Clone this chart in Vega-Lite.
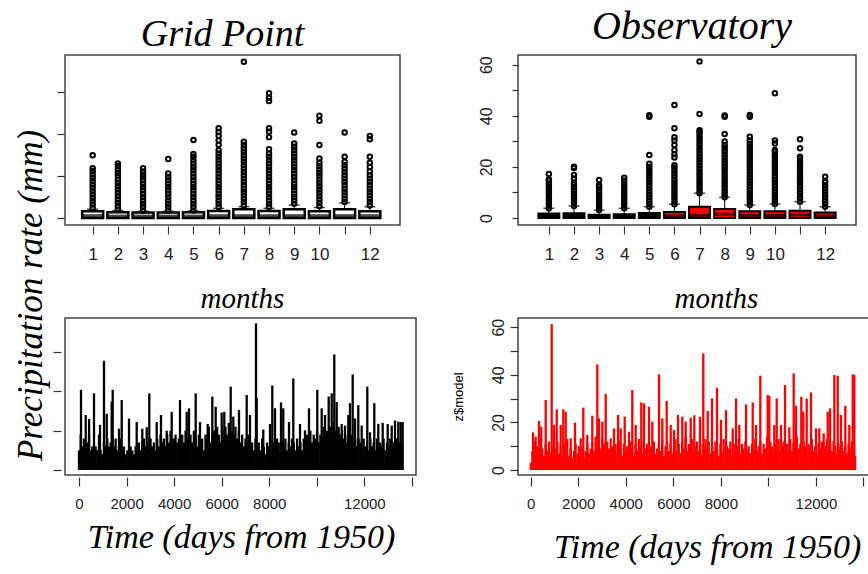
{
"$schema": "https://vega.github.io/schema/vega-lite/v6.json",
"padding": {"left": 12, "top": 6, "right": 0, "bottom": 0},
"background": "white",
"config": {
  "view": {"stroke": "#444", "strokeWidth": 1.5},
  "axis": {"grid": false, "domain": false, "labelOverlap": false, "labelFont": "Liberation Sans", "labelColor": "#222", "tickColor": "#333", "tickWidth": 1.2, "labelFontSize": 16, "titleFont": "Liberation Serif", "titleFontStyle": "italic", "titleFontWeight": "normal", "titleColor": "#000"}
},
"datasets": {
  "gpbox": [
    {"m":1,"q1":0,"med":0.5,"q3":1.6,"hi":2.1},{"m":2,"q1":0,"med":0.4,"q3":1.4,"hi":1.8},{"m":3,"q1":0,"med":0.4,"q3":1.3,"hi":1.6},{"m":4,"q1":0,"med":0.4,"q3":1.3,"hi":1.6},{"m":5,"q1":0,"med":0.4,"q3":1.4,"hi":1.7},{"m":6,"q1":0,"med":0.5,"q3":1.7,"hi":2.3},{"m":7,"q1":0,"med":0.5,"q3":2.1,"hi":2.7},{"m":8,"q1":0,"med":0.5,"q3":1.7,"hi":2.3},{"m":9,"q1":0,"med":0.5,"q3":2.1,"hi":3.1},{"m":10,"q1":0,"med":0.5,"q3":1.6,"hi":2.5},{"m":11,"q1":0,"med":0.5,"q3":2.1,"hi":3.6},{"m":12,"q1":0,"med":0.5,"q3":1.6,"hi":2.7}
  ],
  "obsbox": [
    {"m":1,"q1":0,"med":0.5,"q3":1.8,"hi":3.8},{"m":2,"q1":0,"med":0.5,"q3":1.9,"hi":4.7},{"m":3,"q1":0,"med":0.3,"q3":1.3,"hi":3.1},{"m":4,"q1":0,"med":0.3,"q3":1.5,"hi":3.8},{"m":5,"q1":0,"med":0.5,"q3":2.0,"hi":4.4},{"m":6,"q1":0,"med":0.8,"q3":2.3,"hi":5.4},{"m":7,"q1":0,"med":1.0,"q3":4.4,"hi":9.7},{"m":8,"q1":0,"med":1.5,"q3":3.5,"hi":8.1},{"m":9,"q1":0,"med":1.0,"q3":2.6,"hi":5.1},{"m":10,"q1":0,"med":1.0,"q3":2.6,"hi":5.5},{"m":11,"q1":0,"med":1.2,"q3":2.8,"hi":6.4},{"m":12,"q1":0,"med":0.8,"q3":2.2,"hi":4.4}
  ],
  "gpout": [
    {"m":1,"v":2.4},{"m":1,"v":3.2},{"m":1,"v":4.0},{"m":1,"v":4.8},{"m":1,"v":5.6},{"m":1,"v":6.4},{"m":1,"v":7.2},{"m":1,"v":8.0},{"m":1,"v":8.8},{"m":1,"v":9.6},{"m":1,"v":10.4},{"m":1,"v":11.2},{"m":1,"v":11.9},{"m":1,"v":15.0},
    {"m":2,"v":2.0},{"m":2,"v":2.8},{"m":2,"v":3.6},{"m":2,"v":4.4},{"m":2,"v":5.2},{"m":2,"v":6.0},{"m":2,"v":6.8},{"m":2,"v":7.6},{"m":2,"v":8.4},{"m":2,"v":9.2},{"m":2,"v":10.0},{"m":2,"v":10.8},{"m":2,"v":11.6},{"m":2,"v":12.4},{"m":2,"v":13.0},
    {"m":3,"v":1.8},{"m":3,"v":2.6},{"m":3,"v":3.4},{"m":3,"v":4.2},{"m":3,"v":5.0},{"m":3,"v":5.8},{"m":3,"v":6.6},{"m":3,"v":7.4},{"m":3,"v":8.2},{"m":3,"v":9.0},{"m":3,"v":9.8},{"m":3,"v":10.3},{"m":3,"v":11.1},{"m":3,"v":11.9},
    {"m":4,"v":1.8},{"m":4,"v":2.6},{"m":4,"v":3.4},{"m":4,"v":4.2},{"m":4,"v":5.0},{"m":4,"v":5.8},{"m":4,"v":6.6},{"m":4,"v":7.4},{"m":4,"v":8.2},{"m":4,"v":9.0},{"m":4,"v":9.8},{"m":4,"v":10.6},{"m":4,"v":14.1},
    {"m":5,"v":1.8},{"m":5,"v":2.6},{"m":5,"v":3.4},{"m":5,"v":4.2},{"m":5,"v":5.0},{"m":5,"v":5.8},{"m":5,"v":6.6},{"m":5,"v":7.4},{"m":5,"v":8.2},{"m":5,"v":9.0},{"m":5,"v":9.8},{"m":5,"v":10.6},{"m":5,"v":11.4},{"m":5,"v":12.2},{"m":5,"v":13.0},{"m":5,"v":13.8},{"m":5,"v":14.6},{"m":5,"v":15.3},{"m":5,"v":18.6},
    {"m":6,"v":2.6},{"m":6,"v":3.4},{"m":6,"v":4.2},{"m":6,"v":5.0},{"m":6,"v":5.8},{"m":6,"v":6.6},{"m":6,"v":7.4},{"m":6,"v":8.2},{"m":6,"v":9.0},{"m":6,"v":9.8},{"m":6,"v":10.6},{"m":6,"v":11.4},{"m":6,"v":12.2},{"m":6,"v":13.0},{"m":6,"v":13.8},{"m":6,"v":14.6},{"m":6,"v":15.4},{"m":6,"v":16.2},{"m":6,"v":17.5},{"m":6,"v":18.5},{"m":6,"v":19.6},{"m":6,"v":20.5},{"m":6,"v":21.4},
    {"m":7,"v":3.0},{"m":7,"v":3.8},{"m":7,"v":4.6},{"m":7,"v":5.4},{"m":7,"v":6.2},{"m":7,"v":7.0},{"m":7,"v":7.8},{"m":7,"v":8.6},{"m":7,"v":9.4},{"m":7,"v":10.2},{"m":7,"v":11.0},{"m":7,"v":11.8},{"m":7,"v":12.6},{"m":7,"v":13.4},{"m":7,"v":14.2},{"m":7,"v":15.0},{"m":7,"v":15.8},{"m":7,"v":16.6},{"m":7,"v":17.4},{"m":7,"v":18.2},{"m":7,"v":37.3},
    {"m":8,"v":2.6},{"m":8,"v":3.4},{"m":8,"v":4.2},{"m":8,"v":5.0},{"m":8,"v":5.8},{"m":8,"v":6.6},{"m":8,"v":7.4},{"m":8,"v":8.2},{"m":8,"v":9.0},{"m":8,"v":9.8},{"m":8,"v":10.6},{"m":8,"v":11.4},{"m":8,"v":12.2},{"m":8,"v":13.0},{"m":8,"v":13.8},{"m":8,"v":14.6},{"m":8,"v":15.4},{"m":8,"v":16.4},{"m":8,"v":19.3},{"m":8,"v":20.6},{"m":8,"v":21.4},{"m":8,"v":27.9},{"m":8,"v":28.7},{"m":8,"v":29.8},
    {"m":9,"v":3.4},{"m":9,"v":4.2},{"m":9,"v":5.0},{"m":9,"v":5.8},{"m":9,"v":6.6},{"m":9,"v":7.4},{"m":9,"v":8.2},{"m":9,"v":9.0},{"m":9,"v":9.8},{"m":9,"v":10.6},{"m":9,"v":11.4},{"m":9,"v":12.2},{"m":9,"v":13.0},{"m":9,"v":13.8},{"m":9,"v":14.6},{"m":9,"v":15.4},{"m":9,"v":16.2},{"m":9,"v":17.0},{"m":9,"v":17.8},{"m":9,"v":20.4},
    {"m":10,"v":2.8},{"m":10,"v":3.6},{"m":10,"v":4.4},{"m":10,"v":5.2},{"m":10,"v":6.0},{"m":10,"v":6.8},{"m":10,"v":7.6},{"m":10,"v":8.4},{"m":10,"v":9.2},{"m":10,"v":10.0},{"m":10,"v":10.8},{"m":10,"v":11.6},{"m":10,"v":12.4},{"m":10,"v":13.2},{"m":10,"v":14.2},{"m":10,"v":17.4},{"m":10,"v":23.2},{"m":10,"v":24.4},
    {"m":11,"v":3.8},{"m":11,"v":4.6},{"m":11,"v":5.4},{"m":11,"v":6.2},{"m":11,"v":7.0},{"m":11,"v":7.8},{"m":11,"v":8.6},{"m":11,"v":9.4},{"m":11,"v":10.2},{"m":11,"v":11.0},{"m":11,"v":11.8},{"m":11,"v":12.6},{"m":11,"v":13.4},{"m":11,"v":14.6},{"m":11,"v":20.4},
    {"m":12,"v":3.0},{"m":12,"v":3.8},{"m":12,"v":4.6},{"m":12,"v":5.4},{"m":12,"v":6.2},{"m":12,"v":7.0},{"m":12,"v":7.8},{"m":12,"v":8.6},{"m":12,"v":9.4},{"m":12,"v":10.2},{"m":12,"v":11.1},{"m":12,"v":12.2},{"m":12,"v":13.2},{"m":12,"v":14.6},{"m":12,"v":18.8},{"m":12,"v":19.6}
  ],
  "obsout": [
    {"m":1,"v":3.8},{"m":1,"v":5.0},{"m":1,"v":6.2},{"m":1,"v":7.4},{"m":1,"v":8.6},{"m":1,"v":9.8},{"m":1,"v":11.0},{"m":1,"v":12.2},{"m":1,"v":13.4},{"m":1,"v":14.6},{"m":1,"v":15.1},{"m":1,"v":17.2},
    {"m":2,"v":4.7},{"m":2,"v":5.9},{"m":2,"v":7.1},{"m":2,"v":8.3},{"m":2,"v":9.5},{"m":2,"v":10.7},{"m":2,"v":11.9},{"m":2,"v":13.0},{"m":2,"v":13.8},{"m":2,"v":15.5},{"m":2,"v":16.8},{"m":2,"v":19.6},{"m":2,"v":20.1},
    {"m":3,"v":3.1},{"m":3,"v":4.3},{"m":3,"v":5.5},{"m":3,"v":6.7},{"m":3,"v":7.9},{"m":3,"v":9.1},{"m":3,"v":10.3},{"m":3,"v":11.5},{"m":3,"v":12.3},{"m":3,"v":12.9},{"m":3,"v":14.9},
    {"m":4,"v":3.8},{"m":4,"v":5.0},{"m":4,"v":6.2},{"m":4,"v":7.4},{"m":4,"v":8.6},{"m":4,"v":9.8},{"m":4,"v":11.0},{"m":4,"v":12.2},{"m":4,"v":13.4},{"m":4,"v":14.6},{"m":4,"v":15.8},
    {"m":5,"v":4.4},{"m":5,"v":5.6},{"m":5,"v":6.8},{"m":5,"v":8.0},{"m":5,"v":9.2},{"m":5,"v":10.4},{"m":5,"v":11.6},{"m":5,"v":12.8},{"m":5,"v":14.0},{"m":5,"v":15.2},{"m":5,"v":16.4},{"m":5,"v":17.6},{"m":5,"v":18.8},{"m":5,"v":20.0},{"m":5,"v":21.2},{"m":5,"v":24.7},{"m":5,"v":39.6},{"m":5,"v":40.2},
    {"m":6,"v":5.4},{"m":6,"v":6.6},{"m":6,"v":7.8},{"m":6,"v":9.0},{"m":6,"v":10.2},{"m":6,"v":11.4},{"m":6,"v":12.6},{"m":6,"v":13.8},{"m":6,"v":15.0},{"m":6,"v":16.2},{"m":6,"v":17.4},{"m":6,"v":18.6},{"m":6,"v":19.8},{"m":6,"v":20.7},{"m":6,"v":23.7},{"m":6,"v":25.0},{"m":6,"v":26.6},{"m":6,"v":28.6},{"m":6,"v":30.3},{"m":6,"v":31.6},{"m":6,"v":35.1},{"m":6,"v":44.2},
    {"m":7,"v":9.7},{"m":7,"v":10.9},{"m":7,"v":12.1},{"m":7,"v":13.3},{"m":7,"v":14.5},{"m":7,"v":15.7},{"m":7,"v":16.9},{"m":7,"v":18.1},{"m":7,"v":19.3},{"m":7,"v":20.5},{"m":7,"v":21.7},{"m":7,"v":22.9},{"m":7,"v":24.1},{"m":7,"v":25.3},{"m":7,"v":26.5},{"m":7,"v":27.7},{"m":7,"v":28.9},{"m":7,"v":30.1},{"m":7,"v":31.3},{"m":7,"v":32.5},{"m":7,"v":33.7},{"m":7,"v":34.4},{"m":7,"v":40.7},{"m":7,"v":61.3},
    {"m":8,"v":8.1},{"m":8,"v":9.3},{"m":8,"v":10.5},{"m":8,"v":11.7},{"m":8,"v":12.9},{"m":8,"v":14.1},{"m":8,"v":15.3},{"m":8,"v":16.5},{"m":8,"v":17.7},{"m":8,"v":18.9},{"m":8,"v":20.1},{"m":8,"v":21.3},{"m":8,"v":22.5},{"m":8,"v":23.7},{"m":8,"v":24.9},{"m":8,"v":26.1},{"m":8,"v":27.3},{"m":8,"v":28.5},{"m":8,"v":29.9},{"m":8,"v":32.9},{"m":8,"v":39.6},{"m":8,"v":40.1},
    {"m":9,"v":5.1},{"m":9,"v":6.3},{"m":9,"v":7.5},{"m":9,"v":8.7},{"m":9,"v":9.9},{"m":9,"v":11.1},{"m":9,"v":12.3},{"m":9,"v":13.5},{"m":9,"v":14.7},{"m":9,"v":15.9},{"m":9,"v":17.1},{"m":9,"v":18.3},{"m":9,"v":19.5},{"m":9,"v":20.7},{"m":9,"v":21.9},{"m":9,"v":23.1},{"m":9,"v":24.3},{"m":9,"v":25.5},{"m":9,"v":26.7},{"m":9,"v":27.9},{"m":9,"v":29.1},{"m":9,"v":30.3},{"m":9,"v":31.8},{"m":9,"v":39.6},{"m":9,"v":40.3},
    {"m":10,"v":5.5},{"m":10,"v":6.7},{"m":10,"v":7.9},{"m":10,"v":9.1},{"m":10,"v":10.3},{"m":10,"v":11.5},{"m":10,"v":12.7},{"m":10,"v":13.9},{"m":10,"v":15.1},{"m":10,"v":16.3},{"m":10,"v":17.5},{"m":10,"v":18.7},{"m":10,"v":19.9},{"m":10,"v":21.1},{"m":10,"v":22.3},{"m":10,"v":23.5},{"m":10,"v":24.7},{"m":10,"v":25.9},{"m":10,"v":26.6},{"m":10,"v":29.2},{"m":10,"v":30.3},{"m":10,"v":48.8},
    {"m":11,"v":6.4},{"m":11,"v":7.6},{"m":11,"v":8.8},{"m":11,"v":10.0},{"m":11,"v":11.2},{"m":11,"v":12.4},{"m":11,"v":13.6},{"m":11,"v":14.8},{"m":11,"v":16.0},{"m":11,"v":17.2},{"m":11,"v":18.4},{"m":11,"v":19.6},{"m":11,"v":20.8},{"m":11,"v":22.0},{"m":11,"v":23.2},{"m":11,"v":24.0},{"m":11,"v":27.3},{"m":11,"v":30.8},
    {"m":12,"v":4.4},{"m":12,"v":5.6},{"m":12,"v":6.8},{"m":12,"v":8.0},{"m":12,"v":9.2},{"m":12,"v":10.4},{"m":12,"v":11.6},{"m":12,"v":12.8},{"m":12,"v":14.0},{"m":12,"v":14.2},{"m":12,"v":16.2}
  ],
  "gpts": [
    {"d":0,"v":5},{"d":70,"v":9},{"d":140,"v":6},{"d":210,"v":8},{"d":280,"v":5},{"d":350,"v":7},{"d":420,"v":9},{"d":490,"v":5},{"d":560,"v":6},{"d":630,"v":4},
    {"d":700,"v":6},{"d":770,"v":5},{"d":840,"v":9},{"d":910,"v":5},{"d":980,"v":4},{"d":1050,"v":7},{"d":1120,"v":6},{"d":1190,"v":8},{"d":1260,"v":6},{"d":1330,"v":7},
    {"d":1400,"v":9},{"d":1470,"v":6},{"d":1540,"v":8},{"d":1610,"v":5},{"d":1680,"v":6},{"d":1750,"v":8},{"d":1820,"v":5},{"d":1890,"v":6},{"d":1960,"v":4},{"d":2030,"v":5},
    {"d":2100,"v":3},{"d":2170,"v":6},{"d":2240,"v":5},{"d":2310,"v":4},{"d":2380,"v":6},{"d":2450,"v":5},{"d":2520,"v":7},{"d":2590,"v":5},{"d":2660,"v":6},{"d":2730,"v":8},
    {"d":2800,"v":6},{"d":2870,"v":7},{"d":2940,"v":5},{"d":3010,"v":8},{"d":3080,"v":6},{"d":3150,"v":7},{"d":3220,"v":5},{"d":3290,"v":8},{"d":3360,"v":6},{"d":3430,"v":9},
    {"d":3500,"v":7},{"d":3570,"v":8},{"d":3640,"v":6},{"d":3710,"v":9},{"d":3780,"v":7},{"d":3850,"v":10},{"d":3920,"v":6},{"d":3990,"v":8},{"d":4060,"v":9},{"d":4130,"v":7},
    {"d":4200,"v":8},{"d":4270,"v":6},{"d":4340,"v":9},{"d":4410,"v":7},{"d":4480,"v":10},{"d":4550,"v":8},{"d":4620,"v":6},{"d":4690,"v":9},{"d":4760,"v":7},{"d":4830,"v":10},
    {"d":4900,"v":8},{"d":4970,"v":6},{"d":5040,"v":9},{"d":5110,"v":7},{"d":5180,"v":8},{"d":5250,"v":5},{"d":5320,"v":9},{"d":5390,"v":8},{"d":5460,"v":11},{"d":5530,"v":7},
    {"d":5600,"v":9},{"d":5670,"v":10},{"d":5740,"v":8},{"d":5810,"v":11},{"d":5880,"v":9},{"d":5950,"v":7},{"d":6020,"v":10},{"d":6090,"v":8},{"d":6160,"v":11},{"d":6230,"v":9},
    {"d":6300,"v":12},{"d":6370,"v":8},{"d":6440,"v":10},{"d":6510,"v":9},{"d":6580,"v":11},{"d":6650,"v":8},{"d":6720,"v":10},{"d":6790,"v":7},{"d":6860,"v":9},{"d":6930,"v":6},
    {"d":7000,"v":8},{"d":7070,"v":7},{"d":7140,"v":9},{"d":7210,"v":6},{"d":7280,"v":7},{"d":7350,"v":5},{"d":7420,"v":8},{"d":7490,"v":6},{"d":7560,"v":7},{"d":7630,"v":5},
    {"d":7700,"v":8},{"d":7770,"v":6},{"d":7840,"v":4},{"d":7910,"v":7},{"d":7980,"v":6},{"d":8050,"v":8},{"d":8120,"v":5},{"d":8190,"v":7},{"d":8260,"v":6},{"d":8330,"v":8},
    {"d":8400,"v":7},{"d":8470,"v":5},{"d":8540,"v":7},{"d":8610,"v":6},{"d":8680,"v":8},{"d":8750,"v":5},{"d":8820,"v":7},{"d":8890,"v":6},{"d":8960,"v":8},{"d":9030,"v":7},
    {"d":9100,"v":5},{"d":9170,"v":8},{"d":9240,"v":6},{"d":9310,"v":7},{"d":9380,"v":5},{"d":9450,"v":8},{"d":9520,"v":7},{"d":9590,"v":9},{"d":9660,"v":8},{"d":9730,"v":10},
    {"d":9800,"v":7},{"d":9870,"v":9},{"d":9940,"v":8},{"d":10010,"v":10},{"d":10080,"v":7},{"d":10150,"v":9},{"d":10220,"v":8},{"d":10290,"v":11},{"d":10360,"v":9},{"d":10430,"v":10},
    {"d":10500,"v":8},{"d":10570,"v":11},{"d":10640,"v":9},{"d":10710,"v":12},{"d":10780,"v":10},{"d":10850,"v":8},{"d":10920,"v":11},{"d":10990,"v":9},{"d":11060,"v":10},{"d":11130,"v":8},
    {"d":11200,"v":9},{"d":11270,"v":7},{"d":11340,"v":10},{"d":11410,"v":8},{"d":11480,"v":9},{"d":11550,"v":7},{"d":11620,"v":8},{"d":11690,"v":6},{"d":11760,"v":8},{"d":11830,"v":7},
    {"d":11900,"v":5},{"d":11970,"v":8},{"d":12040,"v":6},{"d":12110,"v":7},{"d":12180,"v":5},{"d":12250,"v":8},{"d":12320,"v":6},{"d":12390,"v":7},{"d":12460,"v":5},{"d":12530,"v":8},
    {"d":12600,"v":6},{"d":12670,"v":7},{"d":12740,"v":6},{"d":12810,"v":8},{"d":12880,"v":5},{"d":12950,"v":7},{"d":13020,"v":6},{"d":13090,"v":8},{"d":13160,"v":6},{"d":13230,"v":7},
    {"d":13300,"v":5},{"d":13370,"v":8},{"d":13440,"v":6},{"d":13510,"v":7},{"d":13580,"v":6},
    {"d":84,"v":20.4},{"d":282,"v":14.0},{"d":425,"v":13.0},{"d":631,"v":19.5},{"d":883,"v":11.5},{"d":1051,"v":27.8},{"d":1165,"v":14.3},{"d":1375,"v":17.4},{"d":1417,"v":20.4},{"d":1682,"v":10.5},
    {"d":1796,"v":17.8},{"d":2103,"v":13.1},{"d":2426,"v":12.2},{"d":2662,"v":10.5},{"d":2847,"v":10.9},{"d":2956,"v":19.5},{"d":3267,"v":12.2},{"d":3448,"v":14.0},{"d":3688,"v":10},{"d":3898,"v":14.8},
    {"d":4247,"v":17.8},{"d":4529,"v":14.8},{"d":4626,"v":15.7},{"d":4907,"v":19.5},{"d":5088,"v":12.2},{"d":5412,"v":11.7},{"d":5606,"v":18.7},{"d":5748,"v":16.1},{"d":6001,"v":14.6},{"d":6110,"v":14.8},
    {"d":6379,"v":21.2},{"d":6489,"v":13.6},{"d":6728,"v":15.3},{"d":7052,"v":19.1},{"d":7191,"v":14.0},{"d":7443,"v":37.3},{"d":7473,"v":18.3},{"d":7750,"v":10.3},{"d":8032,"v":11.7},{"d":8129,"v":21.5},
    {"d":8242,"v":15.7},{"d":8495,"v":17.2},{"d":8591,"v":15.7},{"d":8831,"v":12.2},{"d":9012,"v":23.3},{"d":9294,"v":11.7},{"d":9504,"v":10.1},{"d":9672,"v":15.7},{"d":10021,"v":20.4},{"d":10206,"v":15.7},
    {"d":10345,"v":14.0},{"d":10500,"v":18.7},{"d":10627,"v":19.5},{"d":10736,"v":29.4},{"d":10837,"v":17.3},{"d":11047,"v":11.7},{"d":11186,"v":11.3},{"d":11325,"v":14.0},{"d":11396,"v":17.0},{"d":11510,"v":24.3},
    {"d":11607,"v":13.1},{"d":11745,"v":16.5},{"d":11888,"v":11.3},{"d":12124,"v":21.2},{"d":12237,"v":9.6},{"d":12418,"v":17.0},{"d":12586,"v":11.7},{"d":12771,"v":12.0},{"d":12982,"v":11.7},{"d":13150,"v":11.3},
    {"d":13289,"v":12.6},{"d":13428,"v":12.3},{"d":13528,"v":12.2},{"d":13612,"v":12.2}
  ],
  "obsts": [
    {"d":0,"v":3},{"d":70,"v":8},{"d":140,"v":12},{"d":210,"v":6},{"d":280,"v":10},{"d":350,"v":7},{"d":420,"v":13},{"d":490,"v":9},{"d":560,"v":6},{"d":630,"v":11},
    {"d":700,"v":8},{"d":770,"v":12},{"d":840,"v":7},{"d":910,"v":10},{"d":980,"v":5},{"d":1050,"v":9},{"d":1120,"v":12},{"d":1190,"v":7},{"d":1260,"v":10},{"d":1330,"v":6},
    {"d":1400,"v":11},{"d":1470,"v":8},{"d":1540,"v":13},{"d":1610,"v":6},{"d":1680,"v":9},{"d":1750,"v":5},{"d":1820,"v":8},{"d":1890,"v":11},{"d":1960,"v":7},{"d":2030,"v":10},
    {"d":2100,"v":6},{"d":2170,"v":9},{"d":2240,"v":5},{"d":2310,"v":8},{"d":2380,"v":11},{"d":2450,"v":7},{"d":2520,"v":9},{"d":2590,"v":12},{"d":2660,"v":8},{"d":2730,"v":14},
    {"d":2800,"v":10},{"d":2870,"v":15},{"d":2940,"v":9},{"d":3010,"v":13},{"d":3080,"v":11},{"d":3150,"v":8},{"d":3220,"v":12},{"d":3290,"v":9},{"d":3360,"v":7},{"d":3430,"v":10},
    {"d":3500,"v":8},{"d":3570,"v":11},{"d":3640,"v":7},{"d":3710,"v":12},{"d":3780,"v":9},{"d":3850,"v":6},{"d":3920,"v":11},{"d":3990,"v":8},{"d":4060,"v":10},{"d":4130,"v":7},
    {"d":4200,"v":12},{"d":4270,"v":9},{"d":4340,"v":6},{"d":4410,"v":11},{"d":4480,"v":8},{"d":4550,"v":13},{"d":4620,"v":10},{"d":4690,"v":7},{"d":4760,"v":12},{"d":4830,"v":9},
    {"d":4900,"v":11},{"d":4970,"v":6},{"d":5040,"v":10},{"d":5110,"v":8},{"d":5180,"v":12},{"d":5250,"v":7},{"d":5320,"v":9},{"d":5390,"v":11},{"d":5460,"v":8},{"d":5530,"v":13},
    {"d":5600,"v":6},{"d":5670,"v":10},{"d":5740,"v":12},{"d":5810,"v":8},{"d":5880,"v":11},{"d":5950,"v":7},{"d":6020,"v":9},{"d":6090,"v":13},{"d":6160,"v":8},{"d":6230,"v":11},
    {"d":6300,"v":7},{"d":6370,"v":12},{"d":6440,"v":9},{"d":6510,"v":14},{"d":6580,"v":8},{"d":6650,"v":11},{"d":6720,"v":9},{"d":6790,"v":13},{"d":6860,"v":7},{"d":6930,"v":10},
    {"d":7000,"v":12},{"d":7070,"v":8},{"d":7140,"v":11},{"d":7210,"v":6},{"d":7280,"v":10},{"d":7350,"v":13},{"d":7420,"v":9},{"d":7490,"v":12},{"d":7560,"v":7},{"d":7630,"v":10},
    {"d":7700,"v":8},{"d":7770,"v":12},{"d":7840,"v":9},{"d":7910,"v":6},{"d":7980,"v":11},{"d":8050,"v":8},{"d":8120,"v":13},{"d":8190,"v":7},{"d":8260,"v":10},{"d":8330,"v":9},
    {"d":8400,"v":12},{"d":8470,"v":6},{"d":8540,"v":11},{"d":8610,"v":8},{"d":8680,"v":10},{"d":8750,"v":13},{"d":8820,"v":7},{"d":8890,"v":11},{"d":8960,"v":9},{"d":9030,"v":12},
    {"d":9100,"v":8},{"d":9170,"v":10},{"d":9240,"v":7},{"d":9310,"v":11},{"d":9380,"v":9},{"d":9450,"v":13},{"d":9520,"v":8},{"d":9590,"v":10},{"d":9660,"v":12},{"d":9730,"v":7},
    {"d":9800,"v":11},{"d":9870,"v":9},{"d":9940,"v":14},{"d":10010,"v":8},{"d":10080,"v":12},{"d":10150,"v":10},{"d":10220,"v":7},{"d":10290,"v":11},{"d":10360,"v":9},{"d":10430,"v":13},
    {"d":10500,"v":8},{"d":10570,"v":10},{"d":10640,"v":12},{"d":10710,"v":7},{"d":10780,"v":11},{"d":10850,"v":9},{"d":10920,"v":13},{"d":10990,"v":8},{"d":11060,"v":12},{"d":11130,"v":10},
    {"d":11200,"v":14},{"d":11270,"v":9},{"d":11340,"v":11},{"d":11410,"v":8},{"d":11480,"v":12},{"d":11550,"v":10},{"d":11620,"v":7},{"d":11690,"v":11},{"d":11760,"v":9},{"d":11830,"v":13},
    {"d":11900,"v":8},{"d":11970,"v":10},{"d":12040,"v":7},{"d":12110,"v":11},{"d":12180,"v":9},{"d":12250,"v":12},{"d":12320,"v":8},{"d":12390,"v":10},{"d":12460,"v":13},{"d":12530,"v":9},
    {"d":12600,"v":11},{"d":12670,"v":8},{"d":12740,"v":12},{"d":12810,"v":10},{"d":12880,"v":7},{"d":12950,"v":11},{"d":13020,"v":9},{"d":13090,"v":12},{"d":13160,"v":8},{"d":13230,"v":10},
    {"d":13300,"v":7},{"d":13370,"v":11},{"d":13440,"v":9},{"d":13510,"v":12},{"d":13580,"v":8},{"d":13650,"v":6},
    {"d":97,"v":15.8},{"d":210,"v":14},{"d":349,"v":20.6},{"d":446,"v":18.2},{"d":631,"v":29.4},{"d":883,"v":61.3},{"d":980,"v":18.9},{"d":1094,"v":25.5},{"d":1262,"v":18.9},{"d":1371,"v":25.5},
    {"d":1472,"v":24.5},{"d":1683,"v":13.3},{"d":1864,"v":19.9},{"d":2103,"v":13.3},{"d":2213,"v":26.2},{"d":2381,"v":14.7},{"d":2592,"v":22.8},{"d":2802,"v":44.4},{"d":2873,"v":21.7},{"d":3012,"v":20.3},
    {"d":3155,"v":31.9},{"d":3366,"v":13.3},{"d":3504,"v":17.5},{"d":3673,"v":23.1},{"d":3786,"v":17.5},{"d":3955,"v":22.4},{"d":4135,"v":16.1},{"d":4274,"v":33.6},{"d":4417,"v":18.9},{"d":4653,"v":28.4},
    {"d":4766,"v":28},{"d":4977,"v":26.6},{"d":5116,"v":20.3},{"d":5398,"v":40.2},{"d":5536,"v":21.7},{"d":5721,"v":29.0},{"d":5890,"v":18.9},{"d":6029,"v":16.8},{"d":6197,"v":23.1},{"d":6378,"v":22.4},
    {"d":6521,"v":20.3},{"d":6731,"v":22},{"d":6883,"v":23},{"d":7122,"v":22.4},{"d":7261,"v":49},{"d":7447,"v":24.8},{"d":7627,"v":30.1},{"d":7838,"v":34.6},{"d":8006,"v":21},{"d":8216,"v":25.2},
    {"d":8498,"v":17.5},{"d":8637,"v":30.1},{"d":8776,"v":18.9},{"d":9058,"v":27.6},{"d":9340,"v":28.4},{"d":9478,"v":18.9},{"d":9659,"v":39.6},{"d":9970,"v":31.5},{"d":10038,"v":31.1},{"d":10248,"v":18.9},
    {"d":10349,"v":30.1},{"d":10530,"v":18.9},{"d":10698,"v":35.7},{"d":10879,"v":18},{"d":11064,"v":40.6},{"d":11161,"v":27},{"d":11384,"v":30.8},{"d":11468,"v":24.5},{"d":11611,"v":30},{"d":11792,"v":32.6},
    {"d":12003,"v":17.5},{"d":12142,"v":17.5},{"d":12326,"v":15.4},{"d":12495,"v":24.5},{"d":12592,"v":25.9},{"d":12773,"v":39.9},{"d":12916,"v":39.6},{"d":13054,"v":23.1},{"d":13235,"v":27},{"d":13404,"v":18.9},
    {"d":13547,"v":40.2},{"d":13614,"v":39.9}
  ]
},
"columns": 2,
"align": "none",
"bounds": "flush",
"spacing": {"row": 93, "column": 102},
"concat": [
  {
    "width": 335, "height": 170,
    "title": {"text": "Grid Point", "font": "Liberation Serif", "fontStyle": "italic", "fontWeight": "normal", "fontSize": 38, "color": "#000", "anchor": "middle", "dx": -10, "offset": -29, "baseline": "alphabetic"},
    "encoding": {
      "x": {"field": "m", "type": "quantitative", "scale": {"domain": [0.1, 13.0], "nice": false, "zero": false},
            "axis": {"title": "months", "values": [1,2,3,4,5,6,7,8,9,10,11,12], "labelOverlap": false, "labelSeparation": 0, "labelFlush": false, "labelExpr": "datum.value == 11 ? '' : datum.label", "offset": 1, "tickSize": 8, "labelPadding": 12, "labelFontSize": 17, "titleFontSize": 29, "titleX": 177, "titleY": 81, "titleAlign": "center", "titleBaseline": "alphabetic"}}
    },
    "layer": [
      {"data": {"name": "gpbox"}, "mark": {"type": "rule", "color": "#000", "strokeWidth": 1},
       "encoding": {
         "y": {"field": "q3", "type": "quantitative", "scale": {"domain": [-1.67, 38.9], "nice": false, "zero": false},
               "axis": {"title": null, "values": [0, 10, 20, 30], "labels": false, "offset": 1, "tickSize": 7}},
         "y2": {"field": "hi"}}},
      {"data": {"name": "gpbox"}, "mark": {"type": "tick", "orient": "horizontal", "size": 11, "thickness": 1.5, "color": "#000"},
       "encoding": {"y": {"field": "hi", "type": "quantitative"}}},
      {"data": {"name": "gpbox"}, "mark": {"type": "bar", "size": 21, "fill": "#fff", "stroke": "#000", "strokeWidth": 2.5},
       "encoding": {"y": {"field": "q1", "type": "quantitative"}, "y2": {"field": "q3"}}},
      {"data": {"name": "gpbox"}, "mark": {"type": "tick", "orient": "horizontal", "size": 21, "thickness": 3.5, "color": "#000"},
       "encoding": {"y": {"field": "med", "type": "quantitative"}}},
      {"data": {"name": "gpout"}, "mark": {"type": "point", "shape": "circle", "filled": false, "size": 20, "strokeWidth": 2, "color": "#000", "opacity": 1},
       "encoding": {"y": {"field": "v", "type": "quantitative"}}}
    ]
  },
  {
    "width": 338, "height": 170,
    "title": {"text": "Observatory", "font": "Liberation Serif", "fontStyle": "italic", "fontWeight": "normal", "fontSize": 40, "color": "#000", "anchor": "middle", "dx": 5, "offset": -24, "baseline": "alphabetic"},
    "encoding": {
      "x": {"field": "m", "type": "quantitative", "scale": {"domain": [-0.03, 13.03], "nice": false, "zero": false},
            "axis": {"title": "months", "values": [1,2,3,4,5,6,7,8,9,10,11,12], "labelOverlap": false, "labelSeparation": 0, "labelFlush": false, "labelExpr": "datum.value == 11 ? '' : datum.label", "offset": 1, "tickSize": 8, "labelPadding": 12, "labelFontSize": 17, "titleFontSize": 29, "titleX": 198, "titleY": 81, "titleAlign": "center", "titleBaseline": "alphabetic"}},
      "y": {"type": "quantitative", "scale": {"domain": [-2.74, 63.8], "nice": false, "zero": false},
            "axis": {"title": null, "values": [0, 10, 20, 30, 40, 50, 60], "labelOverlap": false, "labelExpr": "datum.value % 20 == 0 ? datum.label : ''", "labelAngle": -90, "labelPadding": 18, "tickSize": 6, "labelFontSize": 16}}
    },
    "layer": [
      {"data": {"name": "obsbox"}, "mark": {"type": "rule", "color": "#000", "strokeWidth": 1},
       "encoding": {"y": {"field": "q3", "type": "quantitative"}, "y2": {"field": "hi"}}},
      {"data": {"name": "obsbox"}, "mark": {"type": "tick", "orient": "horizontal", "size": 11, "thickness": 1.5, "color": "#000"},
       "encoding": {"y": {"field": "hi", "type": "quantitative"}}},
      {"data": {"name": "obsbox"}, "mark": {"type": "bar", "size": 21, "stroke": "#000", "strokeWidth": 2},
       "encoding": {"y": {"field": "q1", "type": "quantitative"}, "y2": {"field": "q3"},
         "fill": {"condition": {"test": "datum.m >= 6", "value": "#ff0000"}, "value": "#000"}}},
      {"data": {"name": "obsbox"}, "mark": {"type": "tick", "orient": "horizontal", "size": 21, "thickness": 3, "color": "#000"},
       "encoding": {"y": {"field": "med", "type": "quantitative"}}},
      {"data": {"name": "obsout"}, "mark": {"type": "point", "shape": "circle", "filled": false, "size": 20, "strokeWidth": 2, "color": "#000", "opacity": 1},
       "encoding": {"y": {"field": "v", "type": "quantitative"}}}
    ]
  },
  {
    "width": 351, "height": 157,
    "data": {"name": "gpts"},
    "mark": {"type": "rule", "color": "#000", "strokeWidth": 2.3},
    "encoding": {
      "x": {"field": "d", "type": "quantitative", "scale": {"domain": [-589, 14172], "nice": false, "zero": false},
            "axis": {"title": "Time (days from 1950)", "values": [0,2000,4000,6000,8000,10000,12000,14000], "labelOverlap": false, "format": "d", "labelExpr": "datum.value == 10000 || datum.value == 14000 ? '' : datum.label", "offset": 2, "tickSize": 9, "labelPadding": 10, "labelFontSize": 15, "titleFontSize": 34, "titleX": 176, "titleY": 70, "titleAlign": "center", "titleBaseline": "alphabetic"}},
      "y": {"field": "v", "type": "quantitative", "scale": {"domain": [-1.27, 38.68], "nice": false, "zero": false},
            "axis": {"title": "Precipitation rate (mm)", "values": [0, 10, 20, 30], "labels": false, "offset": 4, "tickSize": 8, "titleFontSize": 35, "titleAngle": -90, "titleX": -31, "titleY": -23, "titleAlign": "center", "titleBaseline": "middle"}},
      "y2": {"datum": 0}
    }
  },
  {
    "width": 352, "height": 157,
    "data": {"name": "obsts"},
    "mark": {"type": "rule", "color": "#ff0000", "strokeWidth": 2.3},
    "encoding": {
      "x": {"field": "d", "type": "quantitative", "scale": {"domain": [-534, 14274], "nice": false, "zero": false},
            "axis": {"title": "Time (days from 1950)", "values": [0,2000,4000,6000,8000,10000,12000,14000], "labelOverlap": false, "format": "d", "labelExpr": "datum.value == 10000 || datum.value == 14000 ? '' : datum.label", "offset": 2, "tickSize": 9, "labelPadding": 10, "labelFontSize": 15, "titleFontSize": 34, "titleX": 189, "titleY": 80, "titleAlign": "center", "titleBaseline": "alphabetic"}},
      "y": {"field": "v", "type": "quantitative", "scale": {"domain": [-2.1, 63.87], "nice": false, "zero": false},
            "axis": {"title": "z$model", "titleFont": "Liberation Sans", "titleFontStyle": "normal", "titleFontSize": 13, "titleX": -60, "titleAngle": -90, "titleBaseline": "middle", "values": [0, 10, 20, 30, 40, 50, 60], "labelOverlap": false, "labelExpr": "datum.value % 20 == 0 ? datum.label : ''", "labelAngle": -90, "labelPadding": 4, "tickSize": 8, "labelFontSize": 16}},
      "y2": {"datum": 0}
    }
  }
]
}
